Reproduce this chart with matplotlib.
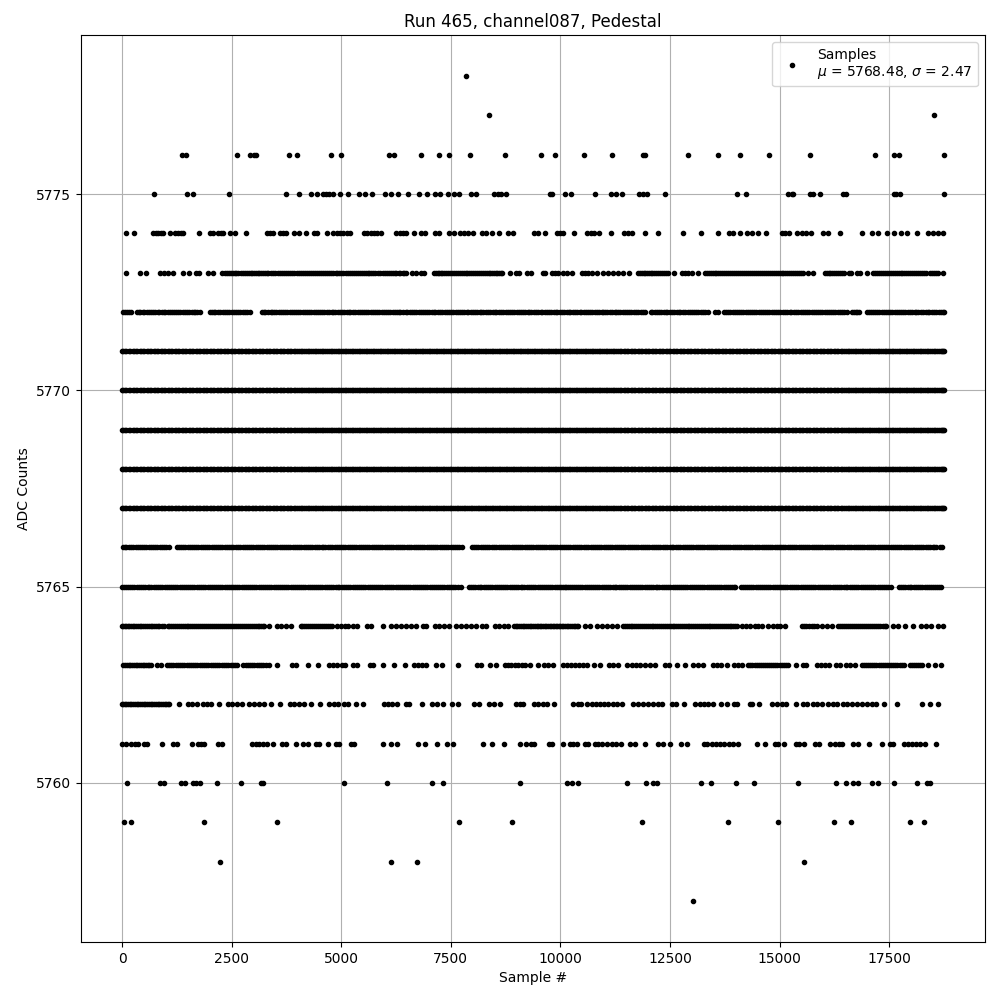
import matplotlib
matplotlib.use('Agg')
from matplotlib import pyplot as plt

# sample numbers, one list per ADC level
x_5778 = [7843]
x_5777 = [8368, 18527]
x_5776 = [1376, 1467, 2622, 2918, 3010, 3063, 3808, 3990, 4765, 4993, 6080, 6202, 6817, 7228, 7456, 7934, 8732,
          9567, 9886, 10547, 11186, 11877, 11923, 12918, 13602, 14104, 14765, 15700, 17182, 17608, 17722, 18750]
x_5775 = [730, 1482, 1619, 2440, 3739, 4036, 4302, 4438, 4583, 4659, 4727, 4811, 4978, 5153, 5404, 5540, 5708,
          5996, 6141, 6293, 6521, 6772, 6954, 7136, 7250, 7433, 7570, 7684, 7957, 8064, 8482, 8573, 8649, 8755,
          9764, 9810, 10106, 10236, 10798, 11155, 11262, 11414, 11794, 11885, 11969, 12394, 14036, 14241, 15198,
          15274, 15312, 15692, 15768, 15928, 16452, 16513, 17608, 17668, 17744, 18750]
x_5774 = [91, 274, 714, 768, 821, 882, 942, 1094, 1216, 1277, 1338, 1398, 1756, 2006, 2075, 2189, 2250, 2303,
          2455, 2569, 2827, 3298, 3374, 3450, 3602, 3663, 3739, 3922, 4036, 4195, 4378, 4454, 4674, 4818, 4894,
          4970, 5046, 5122, 5198, 5518, 5594, 5670, 5746, 5822, 5898, 6255, 6331, 6407, 6483, 6658, 6825, 6908,
          7136, 7235, 7463, 7570, 7699, 7798, 7896, 7995, 8216, 8314, 8444, 8603, 8808, 8922, 9394, 9485, 9650,
          9916, 9992, 10068, 10319, 10616, 10692, 10768, 10889, 11163, 11459, 11550, 11626, 11930, 12234, 12804,
          13215, 13602, 13853, 13929, 14096, 14248, 14362, 14514, 14682, 15046, 15122, 15221, 15388, 15502, 15601,
          15715, 15981, 16110, 16384, 16886, 17098, 17250, 17456, 17608, 17782, 17912, 18139, 18390, 18504, 18618,
          18732]
x_5773 = [84, 410, 547, 866, 960, 1050, 1170, 1391, 1528, 1690, 1750, 1960, 2082, 2288, 2390, 2480, 2570, 2650,
          2760, 2840, 2930, 3010, 3090, 3170, 3260, 3340, 3450, 3560, 3640, 3690, 3740, 3830, 3930, 4030, 4130,
          4220, 4310, 4410, 4490, 4580, 4680, 4770, 4870, 4960, 5050, 5150, 5240, 5340, 5430, 5520, 5600, 5680,
          5770, 5830, 5880, 5950, 6040, 6130, 6220, 6310, 6400, 6470, 6620, 6696, 6810, 6886, 7114, 7200, 7270,
          7340, 7440, 7530, 7620, 7700, 7790, 7880, 7970, 8050, 8140, 8230, 8320, 8400, 8480, 8560, 8640, 8670,
          8860, 8976, 9050, 9240, 9318, 9612, 9650, 9802, 9878, 9954, 10068, 10160, 10258, 10486, 10562, 10638,
          10714, 10828, 10980, 11094, 11208, 11322, 11436, 11573, 11778, 11860, 11940, 12020, 12100, 12190, 12280,
          12370, 12460, 12600, 12766, 12842, 12918, 12994, 13146, 13298, 13390, 13480, 13560, 13650, 13740, 13830,
          13920, 14010, 14100, 14190, 14280, 14370, 14460, 14550, 14640, 14730, 14820, 14910, 15000, 15090, 15180,
          15270, 15360, 15450, 15500, 15540, 15639, 15753, 16034, 16120, 16200, 16290, 16380, 16470, 16580, 16640,
          16756, 16832, 17000, 17136, 17220, 17310, 17400, 17490, 17580, 17670, 17760, 17850, 17940, 18030, 18120,
          18210, 18290, 18352, 18428, 18520, 18610, 18732]
x_5773_b = [2340, 2430, 2520, 2610, 2710, 2800, 2890, 2970, 3050, 3130, 3210, 3300, 3400, 3500, 3600, 3780, 3880,
            3980, 4080, 4170, 4260, 4360, 4450, 4530, 4630, 4720, 4820, 4910, 5000, 5100, 5190, 5290, 5380, 5470,
            5560, 5640, 5720, 5990, 6080, 6170, 6260, 6350, 6440, 7160, 7235, 7300, 7390, 7490, 7570, 7660, 7745,
            7835, 7925, 8010, 8095, 8185, 8275, 8360, 8440, 8520, 8600, 11820, 11900, 11980, 12060, 12145, 12235,
            12325, 12415, 13340, 13435, 13520, 13605, 13695, 13785, 13875, 13965, 14055, 14145, 14235, 14325, 14415,
            14505, 14595, 14685, 14775, 14865, 14955, 15045, 15135, 15225, 15315, 15405, 16080, 16160, 16245, 16335,
            16425, 17180, 17265, 17355, 17445, 17535, 17625, 17715, 17805, 17895, 17985, 18075, 18165, 18250, 18470,
            18565]
x_5772 = [30, 110, 213, 334, 420, 510, 620, 700, 810, 900, 990, 1100, 1190, 1280, 1390, 1480, 1590, 1670, 1778,
          1999, 2090, 2180, 2300, 2400, 2500, 2610, 2700, 2810, 2918, 3184, 3270, 3390, 3470, 3580, 3680, 3770,
          3880, 3960, 4070, 4180, 4260, 4370, 4480, 4560, 4670, 4780, 4860, 4980, 5070, 5170, 5260, 5380, 5470,
          5560, 5680, 5760, 5870, 5980, 6060, 6170, 6270, 6350, 6470, 6560, 6660, 6770, 6860, 6960, 7070, 7150,
          7260, 7370, 7450, 7560, 7660, 7750, 7860, 7950, 8050, 8160, 8240, 8350, 8460, 8540, 8650, 8760, 8840,
          8950, 9050, 9140, 9250, 9340, 9440, 9550, 9640, 9740, 9850, 9930, 10040, 10150, 10230, 10340, 10440,
          10530, 10640, 10730, 10830, 10940, 11020, 11130, 11240, 11320, 11430, 11530, 11620, 11730, 11830, 11930,
          12060, 12150, 12250, 12360, 12440, 12550, 12660, 12740, 12850, 12950, 13040, 13150, 13260, 13374, 13526,
          13602, 13737, 13820, 13930, 14040, 14120, 14230, 14330, 14420, 14530, 14630, 14720, 14830, 14930, 15020,
          15130, 15230, 15320, 15430, 15530, 15620, 15730, 15830, 15920, 16030, 16130, 16220, 16330, 16430, 16528,
          16660, 16740, 16810, 16984, 17080, 17180, 17270, 17380, 17480, 17570, 17680, 17780, 17870, 17980, 18080,
          18170, 18280, 18380, 18470, 18580, 18680, 18750]
x_5772_b = [70, 160, 380, 470, 560, 660, 750, 850, 950, 1040, 1140, 1240, 1330, 1430, 1530, 1630, 1720, 2040, 2130,
            2240, 2350, 2450, 2550, 2650, 2750, 2860, 3230, 3330, 3430, 3520, 3630, 3720, 3820, 3920, 4010, 4120,
            4220, 4310, 4420, 4520, 4610, 4720, 4820, 4920, 5020, 5120, 5210, 5320, 5420, 5510, 5620, 5720, 5810,
            5920, 6020, 6110, 6220, 6310, 6410, 6510, 6610, 6710, 6810, 6910, 7010, 7110, 7200, 7310, 7410, 7500,
            7610, 7700, 7800, 7900, 8000, 8100, 8200, 8300, 8400, 8500, 8600, 8700, 8800, 8900, 9000, 9090, 9190,
            9290, 9390, 9490, 9590, 9690, 9790, 9890, 9980, 10090, 10190, 10280, 10390, 10480, 10580, 10680, 10780,
            10880, 10980, 11070, 11180, 11280, 11370, 11480, 11570, 11680, 11780, 11880, 12100, 12200, 12300, 12400,
            12500, 12600, 12700, 12800, 12900, 13000, 13100, 13200, 13310, 13780, 13870, 13980, 14080, 14170, 14280,
            14370, 14470, 14580, 14670, 14770, 14880, 14970, 15070, 15180, 15270, 15370, 15480, 15570, 15670, 15780,
            15870, 15970, 16080, 16170, 16270, 16380, 16470, 16700, 16770, 17030, 17130, 17220, 17330, 17430, 17520,
            17630, 17730, 17820, 17930, 18030, 18120, 18230, 18330, 18420, 18530, 18630, 18720]
# levels 5767 to 5771 read as unbroken bands from end to end, so they share these samples
x_band_a = [0, 70, 150, 240, 310, 400, 470, 560, 630, 720, 790, 880, 950, 1040, 1110, 1200, 1270, 1360, 1430, 1520,
            1590, 1680, 1750, 1840, 1910, 2000, 2070, 2160, 2230, 2320, 2390, 2480, 2550, 2640, 2710, 2800, 2870,
            2960, 3030, 3120, 3190, 3280, 3350, 3440, 3510, 3600, 3670, 3760, 3830, 3920, 3990, 4080, 4150, 4240,
            4310, 4400, 4470, 4560, 4630, 4720, 4790, 4880, 4950, 5040, 5110, 5200, 5270, 5360, 5430, 5520, 5590,
            5680, 5750, 5840, 5910, 6000, 6070, 6160, 6230, 6320, 6390, 6480, 6550, 6640, 6710, 6800, 6870, 6960,
            7030, 7120, 7190, 7280, 7350, 7440, 7510, 7600, 7670, 7760, 7830, 7920, 7990, 8080, 8150, 8240, 8310,
            8400, 8470, 8560, 8630, 8720, 8790, 8880, 8950, 9040, 9110, 9200, 9270, 9360, 9430, 9520, 9590, 9680,
            9750, 9840, 9910, 10000, 10070, 10160, 10230, 10320, 10390, 10480, 10550, 10640, 10710, 10800, 10870,
            10960, 11030, 11120, 11190, 11280, 11350, 11440, 11510, 11600, 11670, 11760, 11830, 11920, 11990, 12080,
            12150, 12240, 12310, 12400, 12470, 12560, 12630, 12720, 12790, 12880, 12950, 13040, 13110, 13200, 13270,
            13360, 13430, 13520, 13590, 13680, 13750, 13840, 13910, 14000, 14070, 14160, 14230, 14320, 14390, 14480,
            14550, 14640, 14710, 14800, 14870, 14960, 15030, 15120, 15190, 15280, 15350, 15440, 15510, 15600, 15670,
            15760, 15830, 15920, 15990, 16080, 16150, 16240, 16310, 16400, 16470, 16560, 16630, 16720, 16790, 16880,
            16950, 17040, 17110, 17200, 17270, 17360, 17430, 17520, 17590, 17680, 17750, 17840, 17910, 18000, 18070,
            18160, 18230, 18320, 18390, 18480, 18550, 18640, 18710, 18750]
x_band_b = [30, 100, 190, 265, 335, 425, 505, 590, 665, 750, 825, 915, 985, 1075, 1145, 1235, 1305, 1395, 1465, 1555,
            1625, 1715, 1785, 1875, 1945, 2035, 2105, 2195, 2265, 2355, 2425, 2515, 2585, 2675, 2745, 2835, 2905,
            2995, 3065, 3155, 3225, 3315, 3385, 3475, 3545, 3635, 3705, 3795, 3865, 3955, 4025, 4115, 4185, 4275,
            4345, 4435, 4505, 4595, 4665, 4755, 4825, 4915, 4985, 5075, 5145, 5235, 5305, 5395, 5465, 5555, 5625,
            5715, 5785, 5875, 5945, 6035, 6105, 6195, 6265, 6355, 6425, 6515, 6585, 6675, 6745, 6835, 6905, 6995,
            7065, 7155, 7225, 7315, 7385, 7475, 7545, 7635, 7705, 7795, 7865, 7955, 8025, 8115, 8185, 8275, 8345,
            8435, 8505, 8595, 8665, 8755, 8825, 8915, 8985, 9075, 9145, 9235, 9305, 9395, 9465, 9555, 9625, 9715,
            9785, 9875, 9945, 10035, 10105, 10195, 10265, 10355, 10425, 10515, 10585, 10675, 10745, 10835, 10905,
            10995, 11065, 11155, 11225, 11315, 11385, 11475, 11545, 11635, 11705, 11795, 11865, 11955, 12025, 12115,
            12185, 12275, 12345, 12435, 12505, 12595, 12665, 12755, 12825, 12915, 12985, 13075, 13145, 13235, 13305,
            13395, 13465, 13555, 13625, 13715, 13785, 13875, 13945, 14035, 14105, 14195, 14265, 14355, 14425, 14515,
            14585, 14675, 14745, 14835, 14905, 14995, 15065, 15155, 15225, 15315, 15385, 15475, 15545, 15635, 15705,
            15795, 15865, 15955, 16025, 16115, 16185, 16275, 16345, 16435, 16505, 16595, 16665, 16755, 16825, 16915,
            16985, 17075, 17145, 17235, 17305, 17395, 17465, 17555, 17625, 17715, 17785, 17875, 17945, 18035, 18105,
            18195, 18265, 18355, 18425, 18515, 18585, 18675, 18730]
x_5766 = [10, 100, 200, 310, 400, 500, 610, 700, 800, 910, 1000, 1064, 1246, 1340, 1440, 1550, 1640, 1740, 1850,
          1940, 2040, 2150, 2240, 2340, 2450, 2540, 2640, 2750, 2840, 2940, 3050, 3140, 3240, 3350, 3440, 3540,
          3650, 3740, 3840, 3950, 4040, 4140, 4250, 4340, 4440, 4550, 4640, 4740, 4850, 4940, 5040, 5150, 5240,
          5340, 5450, 5540, 5640, 5750, 5840, 5940, 6050, 6140, 6240, 6350, 6440, 6540, 6650, 6740, 6840, 6950,
          7040, 7140, 7250, 7340, 7440, 7550, 7640, 7752, 7988, 8080, 8180, 8290, 8380, 8480, 8590, 8680, 8780,
          8890, 8980, 9080, 9190, 9280, 9380, 9490, 9580, 9680, 9790, 9880, 9980, 10090, 10180, 10280, 10390,
          10480, 10580, 10690, 10780, 10880, 10990, 11080, 11180, 11290, 11380, 11480, 11590, 11680, 11780, 11890,
          11980, 12080, 12190, 12280, 12380, 12490, 12580, 12680, 12790, 12880, 12980, 13090, 13180, 13280, 13390,
          13480, 13580, 13690, 13780, 13880, 13990, 14080, 14180, 14290, 14380, 14480, 14590, 14680, 14780, 14890,
          14980, 15080, 15190, 15280, 15380, 15490, 15580, 15680, 15790, 15880, 15980, 16090, 16180, 16280, 16390,
          16480, 16580, 16690, 16780, 16880, 16990, 17080, 17180, 17290, 17380, 17480, 17590, 17680, 17780, 17890,
          17980, 18080, 18190, 18280, 18380, 18490, 18580, 18710]
x_5766_b = [55, 150, 255, 355, 450, 555, 655, 750, 855, 955, 1290, 1390, 1495, 1595, 1690, 1795, 1895, 1990, 2095,
            2195, 2290, 2395, 2495, 2590, 2695, 2795, 2890, 2995, 3095, 3190, 3295, 3395, 3490, 3595, 3695, 3790,
            3895, 3995, 4090, 4195, 4295, 4390, 4495, 4595, 4690, 4795, 4895, 4990, 5095, 5195, 5290, 5395, 5495,
            5590, 5695, 5795, 5890, 5995, 6095, 6190, 6295, 6395, 6490, 6595, 6695, 6790, 6895, 6995, 7090, 7195,
            7295, 7390, 7495, 7595, 7695, 8035, 8130, 8235, 8335, 8430, 8535, 8635, 8730, 8835, 8935, 9030, 9135,
            9235, 9330, 9435, 9535, 9630, 9735, 9835, 9930, 10035, 10135, 10230, 10335, 10435, 10530, 10635, 10735,
            10830, 10935, 11035, 11130, 11235, 11335, 11430, 11535, 11635, 11730, 11835, 11935, 12030, 12135, 12235,
            12330, 12435, 12535, 12630, 12735, 12835, 12930, 13035, 13135, 13230, 13335, 13435, 13530, 13635, 13735,
            13830, 13935, 14035, 14130, 14235, 14335, 14430, 14535, 14635, 14730, 14835, 14935, 15030, 15135, 15235,
            15330, 15435, 15535, 15630, 15735, 15835, 15930, 16035, 16135, 16230, 16335, 16435, 16530, 16635, 16735,
            16830, 16935, 17035, 17130, 17235, 17335, 17430, 17535, 17635, 17730, 17835, 17935, 18030, 18135, 18235,
            18330, 18435, 18535, 18650]
x_5765 = [0, 90, 190, 280, 390, 480, 580, 670, 780, 870, 970, 1060, 1170, 1260, 1360, 1450, 1560, 1650, 1750,
          1840, 1950, 2040, 2140, 2230, 2340, 2430, 2530, 2620, 2730, 2820, 2920, 3010, 3120, 3210, 3310, 3400,
          3510, 3600, 3700, 3790, 3900, 3990, 4090, 4180, 4290, 4380, 4480, 4570, 4680, 4770, 4870, 4960, 5070,
          5160, 5260, 5350, 5460, 5550, 5650, 5740, 5850, 5940, 6040, 6130, 6240, 6330, 6430, 6520, 6630, 6720,
          6820, 6910, 7020, 7110, 7210, 7300, 7410, 7500, 7600, 7722, 7920, 8010, 8110, 8200, 8310, 8400, 8500,
          8590, 8700, 8790, 8890, 8980, 9090, 9180, 9280, 9370, 9480, 9570, 9670, 9760, 9870, 9960, 10060, 10130,
          10220, 10310, 10410, 10500, 10610, 10700, 10800, 10890, 11000, 11090, 11190, 11280, 11390, 11480, 11580,
          11670, 11780, 11870, 11970, 12060, 12170, 12260, 12360, 12450, 12560, 12650, 12750, 12840, 12950, 13040,
          13140, 13230, 13340, 13430, 13530, 13620, 13730, 13820, 13920, 13990, 14120, 14210, 14310, 14400, 14510,
          14600, 14700, 14790, 14900, 14990, 15090, 15180, 15290, 15380, 15480, 15570, 15680, 15770, 15870, 15960,
          16070, 16160, 16260, 16350, 16460, 16550, 16650, 16740, 16850, 16940, 17040, 17130, 17240, 17330, 17430,
          17540, 17720, 17810, 17920, 18010, 18110, 18200, 18310, 18400, 18500, 18590, 18694]
x_5765_b = [45, 140, 235, 335, 435, 530, 625, 725, 825, 920, 1015, 1115, 1215, 1310, 1405, 1505, 1605, 1700, 1795,
            1895, 1995, 2090, 2185, 2285, 2385, 2480, 2575, 2675, 2775, 2870, 2965, 3065, 3165, 3260, 3355, 3455,
            3555, 3650, 3745, 3845, 3945, 4040, 4135, 4235, 4335, 4430, 4525, 4625, 4725, 4820, 4915, 5015, 5115,
            5210, 5305, 5405, 5505, 5600, 5695, 5795, 5895, 5990, 6085, 6185, 6285, 6380, 6475, 6575, 6675, 6770,
            6865, 6965, 7065, 7160, 7255, 7355, 7455, 7550, 7660, 7965, 8060, 8155, 8255, 8355, 8450, 8545, 8645,
            8745, 8840, 8935, 9035, 9135, 9230, 9325, 9425, 9525, 9620, 9715, 9815, 9915, 10010, 10095, 10175, 10265,
            10360, 10455, 10555, 10655, 10750, 10845, 10945, 11045, 11140, 11235, 11335, 11435, 11530, 11625, 11725,
            11825, 11920, 12015, 12115, 12215, 12310, 12405, 12505, 12605, 12700, 12795, 12895, 12995, 13090, 13185,
            13285, 13385, 13480, 13575, 13675, 13775, 13870, 13955, 14165, 14260, 14355, 14455, 14555, 14650, 14745,
            14845, 14945, 15040, 15135, 15235, 15335, 15430, 15525, 15625, 15725, 15820, 15915, 16015, 16115, 16210,
            16305, 16405, 16505, 16600, 16695, 16795, 16895, 16990, 17085, 17185, 17285, 17380, 17485, 17765, 17865,
            17965, 18060, 18155, 18255, 18355, 18450, 18545, 18645]
x_5764 = [0, 60, 130, 200, 280, 360, 440, 520, 610, 690, 770, 850, 950, 1040, 1110, 1200, 1290, 1380, 1470, 1560,
          1650, 1740, 1830, 1920, 2010, 2100, 2190, 2280, 2370, 2460, 2550, 2640, 2730, 2820, 2910, 3000, 3090,
          3170, 3240, 3352, 3526, 3618, 3732, 3860, 4074, 4160, 4250, 4340, 4430, 4520, 4610, 4700, 4796, 4910,
          5000, 5080, 5160, 5270, 5350, 5594, 5685, 5951, 6141, 6240, 6369, 6468, 6582, 6696, 6870, 6931, 7129,
          7228, 7342, 7456, 7608, 7722, 7836, 7950, 8064, 8216, 8314, 8504, 8596, 8710, 8801, 8938, 9020, 9100,
          9180, 9260, 9340, 9420, 9500, 9560, 9640, 9720, 9790, 9860, 9920, 10000, 10060, 10140, 10220, 10300,
          10370, 10410, 10562, 10676, 10828, 10942, 11056, 11170, 11284, 11436, 11520, 11600, 11690, 11780, 11860,
          11950, 12040, 12120, 12210, 12300, 12380, 12470, 12560, 12640, 12730, 12820, 12900, 12990, 13080, 13160,
          13250, 13340, 13420, 13510, 13600, 13680, 13770, 13860, 13940, 14020, 14134, 14230, 14330, 14430, 14514,
          14606, 14742, 14840, 14940, 15000, 15120, 15502, 15610, 15730, 15844, 15960, 16080, 16200, 16340, 16430,
          16520, 16610, 16700, 16790, 16880, 16970, 17060, 17150, 17250, 17350, 17440, 17592, 17706, 17858, 18048,
          18238, 18352, 18466, 18618, 18732]
x_5764_b = [30, 95, 165, 240, 320, 400, 480, 565, 650, 730, 810, 900, 1075, 1155, 1245, 1335, 1425, 1515, 1605, 1695,
            1785, 1875, 1965, 2055, 2145, 2235, 2325, 2415, 2505, 2595, 2685, 2775, 2865, 2955, 3045, 3130, 3205,
            4115, 4205, 4295, 4385, 4475, 4565, 4655, 4750, 8980, 9060, 9140, 9220, 9300, 9380, 9460, 9530, 9600,
            9680, 9755, 9825, 9890, 9960, 10030, 10100, 10180, 10260, 10335, 11480, 11560, 11645, 11735, 11820,
            11905, 11995, 12080, 12165, 12255, 12340, 12425, 12515, 12600, 12685, 12775, 12860, 12945, 13035, 13120,
            13205, 13295, 13380, 13465, 13555, 13640, 13725, 13815, 13900, 13980, 15555, 15670, 15785, 16385, 16475,
            16565, 16655, 16745, 16835, 16925, 17015, 17105, 17200, 17300, 17395]
x_5763 = [30, 110, 190, 270, 350, 430, 510, 590, 650, 790, 882, 1020, 1120, 1220, 1320, 1420, 1520, 1620, 1720,
          1820, 1920, 2020, 2120, 2220, 2320, 2420, 2530, 2630, 2766, 2870, 2970, 3070, 3170, 3276, 3359, 3534,
          3884, 3960, 4241, 4469, 4720, 4818, 4910, 5024, 5077, 5267, 5366, 5654, 5730, 5951, 6209, 6452, 6658,
          6756, 6848, 6924, 7152, 7304, 7661, 8086, 8200, 8390, 8535, 8725, 8800, 8880, 8960, 9030, 9120, 9200,
          9308, 9498, 9628, 9726, 9825, 10068, 10160, 10236, 10334, 10426, 10524, 10616, 10768, 10904, 11117, 11208,
          11322, 11528, 11626, 11725, 11816, 11930, 12044, 12158, 12386, 12486, 12652, 12842, 13032, 13146, 13260,
          13473, 13564, 13656, 13808, 13960, 14058, 14142, 14286, 14380, 14480, 14570, 14670, 14760, 14850, 14950,
          15050, 15150, 15198, 15366, 15525, 15601, 15860, 15950, 16040, 16130, 16285, 16376, 16513, 16604, 16718,
          16870, 16970, 17060, 17160, 17260, 17360, 17450, 17550, 17640, 17740, 17850, 17972, 18060, 18150, 18240,
          18390, 18542, 18694]
x_5763_b = [70, 150, 230, 310, 390, 470, 550, 620, 1070, 1170, 1270, 1370, 1470, 1570, 1670, 1770, 1870, 1970, 2070,
            2170, 2270, 2370, 2475, 2580, 2820, 2920, 3020, 3120, 3225, 14330, 14430, 14525, 14620, 14715, 14805,
            14900, 15000, 15100, 16920, 17015, 17110, 17210, 17310, 17405, 17500, 17595, 17690, 17795, 18015, 18105,
            18195]
x_5762 = [0, 30, 60, 95, 135, 170, 210, 250, 290, 330, 370, 410, 450, 490, 530, 570, 610, 650, 690, 730, 770, 810,
          850, 890, 930, 970, 1010, 1040, 1070, 1300, 1505, 1604, 1718, 1854,
          1946, 2037, 2219, 2424, 2516, 2630, 2744, 2896, 3010, 3124, 3238, 3397, 3602, 3830, 3922, 4036, 4150,
          4302, 4514, 4720, 4834, 4925, 5062, 5160, 5335, 5502, 5974, 6065, 6164, 6278, 6468, 6544, 6832, 7076,
          7174, 7326, 7532, 7661, 8026, 8140, 8360, 8489, 8618, 8976, 9074, 9150, 9400, 9498, 9597, 9704, 9863,
          10296, 10410, 10463, 10616, 10714, 10813, 10904, 10996, 11094, 11193, 11284, 11398, 11664, 11778, 11892,
          12006, 12120, 12234, 12310, 12538, 12637, 12827, 13070, 13184, 13276, 13374, 13473, 13671, 13808, 13960,
          14036, 14324, 14362, 14537, 14818, 14932, 15046, 15145, 15381, 15540, 15632, 15753, 15860, 15966, 16110,
          16209, 16301, 16452, 16544, 16642, 16756, 16870, 16984, 17098, 17197, 17387, 17684, 18246, 18428, 18618]
x_5761 = [8, 84, 198, 289, 365, 502, 578, 912, 1170, 1246, 1604, 1733, 1809, 1870, 2189, 2288, 2972, 3048, 3124,
          3215, 3298, 3443, 3640, 3732, 3960, 4127, 4248, 4416, 4492, 4697, 4872, 4948, 5214, 5290, 5951, 6133,
          6270, 6749, 6908, 7190, 7418, 7547, 8231, 8436, 8710, 9074, 9204, 9333, 9409, 9742, 9810, 10068, 10220,
          10296, 10372, 10562, 10638, 10790, 10866, 10942, 11056, 11170, 11269, 11375, 11588, 11702, 11938, 12234,
          12333, 12508, 12759, 12896, 13276, 13352, 13450, 13549, 13640, 13731, 13845, 13944, 14043, 14492, 14666,
          14894, 14955, 15107, 15366, 15449, 15556, 15806, 15905, 16148, 16262, 16361, 16422, 16680, 16794, 17045,
          17342, 17517, 17592, 17836, 17934, 18025, 18124, 18215, 18329, 18573]
x_5760 = [114, 859, 958, 1353, 1429, 1619, 1695, 1771, 2166, 2713, 3162, 3207, 5062, 6042, 7068, 7319, 9074, 10160,
          10274, 10395, 11528, 11961, 12120, 12211, 13215, 13443, 14013, 14423, 15426, 16293, 16521, 16680, 16794,
          17114, 17235, 17615, 18140, 18368, 18444]
x_5759 = [46, 213, 1870, 3534, 7684, 8892, 11870, 13830, 14970, 16247, 16635, 17980, 18299]
x_5758 = [2234, 6133, 6726, 15563]
x_5757 = [13032]

levels = list(range(5757, 5779))
rows = [x_5757, x_5758, x_5759, x_5760, x_5761, x_5762, x_5763 + x_5763_b, x_5764 + x_5764_b, x_5765 + x_5765_b,
        x_5766 + x_5766_b, x_band_a + x_band_b, x_band_a + x_band_b, x_band_a + x_band_b, x_band_a + x_band_b,
        x_band_a + x_band_b, x_5772 + x_5772_b, x_5773 + x_5773_b, x_5774, x_5775, x_5776, x_5777, x_5778]

samples = []
counts = []
for level, row in zip(levels, rows):
    samples += row
    counts += [level] * len(row)

fig, ax = plt.subplots(figsize=(10, 10), dpi=100)
ax.plot(samples, counts, '.', color='k', label='Samples\n$\\mu$ = 5768.48, $\\sigma$ = 2.47')
ax.set_xlabel('Sample #')
ax.set_ylabel('ADC Counts')
ax.set_title('Run 465, channel087, Pedestal')
ax.set_xticks([0, 2500, 5000, 7500, 10000, 12500, 15000, 17500])
ax.set_yticks([5760, 5765, 5770, 5775])
ax.ticklabel_format(useOffset=False, axis='y')
ax.grid(True)
ax.legend(loc='upper right')
fig.subplots_adjust(left=0.081, right=0.985, top=0.965, bottom=0.058)
fig.savefig('out.png')
